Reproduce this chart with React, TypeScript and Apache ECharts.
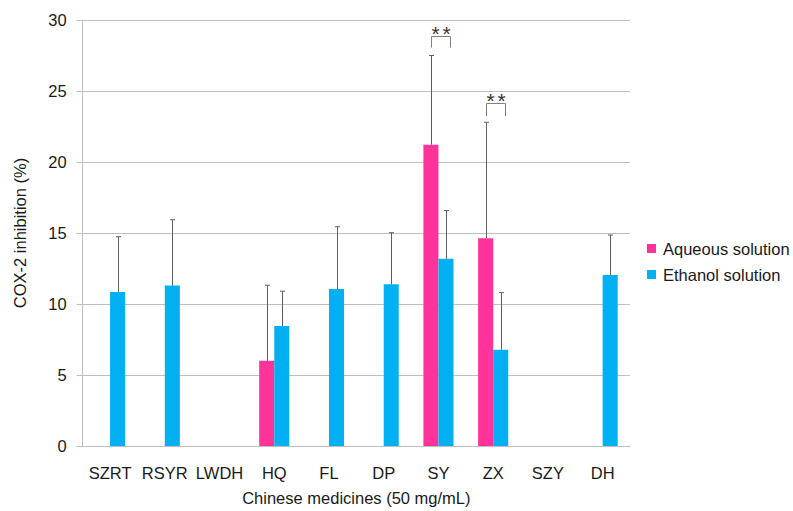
import React, { useEffect, useRef } from "react";
import * as echarts from "echarts";

const categories = ["SZRT", "RSYR", "LWDH", "HQ", "FL", "DP", "SY", "ZX", "SZY", "DH"];
const aqueousValues: (number | null)[] = [null, null, null, 6.0, null, null, 21.22, 14.63, null, null];
const aqueousErrTop: (number | null)[] = [null, null, null, 11.32, null, null, 27.5, 22.8, null, null];
const ethanolValues: (number | null)[] = [10.85, 11.3, null, 8.45, 11.06, 11.39, 13.18, 6.78, null, 12.04];
const ethanolErrTop: (number | null)[] = [14.74, 15.93, null, 10.9, 15.44, 15.02, 16.58, 10.8, null, 14.86];
// significance brackets: [category index, bracket top, bracket bottom]
const sigCategories = [6, 7];
const sigTop = [28.9, 24.13];
const sigBottom = [28.06, 23.24];
const sigMark = "*";
const yTicks = { min: 0, max: 30, interval: 5 };

const FONT = "'Liberation Sans', Arial, sans-serif";
const TEXT = "#1a1a1a";
const PINK = "#FF3399";
const BLUE = "#00B0F0";
const CAT_GAP = 0.45;

function errData(vals: (number | null)[], tops: (number | null)[]) {
  const out: any[] = [];
  vals.forEach((v, i) => {
    if (v != null && tops[i] != null) out.push([i, v, tops[i]]);
  });
  return out;
}

function makeErrSeries(name: string, vals: (number | null)[], tops: (number | null)[], side: number) {
  return {
    type: "custom",
    name: name + "-err",
    z: 5,
    silent: true,
    data: errData(vals, tops),
    renderItem: (params: any, api: any) => {
      const band = api.size([1, 0])[0];
      const bw = (band * (1 - CAT_GAP)) / 2;
      const base = api.coord([api.value(0), api.value(1)]);
      const top = api.coord([api.value(0), api.value(2)]);
      const x = Math.round(base[0] + side * bw / 2) + 0.5;
      return {
        type: "group",
        children: [
          { type: "line", shape: { x1: x, y1: base[1], x2: x, y2: top[1] }, style: { stroke: "#5f5f5f", lineWidth: 1 } },
          { type: "line", shape: { x1: x - 2.5, y1: top[1], x2: x + 2.5, y2: top[1] }, style: { stroke: "#5f5f5f", lineWidth: 1 } },
        ],
      };
    },
  };
}

export default function App() {
  const ref = useRef<HTMLDivElement>(null);
  useEffect(() => {
    if (!ref.current) return;
    const chart = echarts.init(ref.current, undefined, { renderer: "svg" });
    const sigData = sigCategories.map((c, i) => [c, sigTop[i], sigBottom[i]]);
    chart.setOption({
      animation: false,
      backgroundColor: "#ffffff",
      grid: { left: 82.7, right: 163, top: 20, bottom: 61.7, containLabel: false },
      legend: {
        orient: "vertical",
        left: 647,
        top: 240,
        padding: 0,
        itemWidth: 9,
        itemHeight: 9,
        itemGap: 9,
        icon: "rect",
        data: ["Aqueous solution", "Ethanol solution"],
        textStyle: { fontFamily: FONT, fontSize: 16.5, color: TEXT, padding: [0, 0, 0, 2] },
      },
      xAxis: {
        type: "category",
        data: categories,
        axisTick: { show: false },
        axisLine: { lineStyle: { color: "#BFBFBF", width: 1 } },
        axisLabel: { fontFamily: FONT, fontSize: 16.5, color: TEXT, margin: 18, interval: 0 },
        name: "Chinese medicines (50 mg/mL)",
        nameLocation: "middle",
        nameGap: 43,
        nameTextStyle: { fontFamily: FONT, fontSize: 16.5, color: TEXT },
      },
      yAxis: {
        type: "value",
        min: yTicks.min,
        max: yTicks.max,
        interval: yTicks.interval,
        axisLine: { show: true, lineStyle: { color: "#BFBFBF", width: 1 } },
        axisTick: { show: true, length: 6, lineStyle: { color: "#BFBFBF" } },
        splitLine: { lineStyle: { color: "#BFBFBF", width: 1 } },
        axisLabel: { fontFamily: FONT, fontSize: 16.5, color: TEXT, margin: 16 },
        name: "COX-2 inhibition (%)",
        nameLocation: "middle",
        nameGap: 54,
        nameRotate: 90,
        nameTextStyle: { fontFamily: FONT, fontSize: 16.5, color: TEXT },
      },
      series: [
        {
          type: "bar",
          name: "Aqueous solution",
          data: aqueousValues,
          barGap: "0%",
          barCategoryGap: CAT_GAP * 100 + "%",
          itemStyle: { color: PINK },
        },
        {
          type: "bar",
          name: "Ethanol solution",
          data: ethanolValues,
          barGap: "0%",
          barCategoryGap: CAT_GAP * 100 + "%",
          itemStyle: { color: BLUE },
        },
        makeErrSeries("Aqueous solution", aqueousValues, aqueousErrTop, -1),
        makeErrSeries("Ethanol solution", ethanolValues, ethanolErrTop, 1),
        {
          type: "custom",
          name: "sig",
          z: 6,
          silent: true,
          data: sigData,
          renderItem: (params: any, api: any) => {
            const band = api.size([1, 0])[0];
            const bw = (band * (1 - CAT_GAP)) / 2;
            const t = api.coord([api.value(0), api.value(1)]);
            const b = api.coord([api.value(0), api.value(2)]);
            const x1 = Math.round(t[0] - bw / 2) + 0.5;
            const x2 = Math.round(t[0] + bw * 0.8) + 0.5;
            const yt = Math.round(t[1]) + 0.5;
            const cx = (x1 + x2) / 2;
            const starStyle = (dx: number) => ({
              type: "text",
              x: cx + dx,
              y: yt - 3,
              style: {
                text: sigMark,
                fontFamily: FONT,
                fontSize: 21,
                fill: "#333333",
                align: "center",
                verticalAlign: "middle",
              },
            });
            return {
              type: "group",
              children: [
                {
                  type: "polyline",
                  shape: { points: [[x1, b[1]], [x1, yt], [x2, yt], [x2, b[1]]] },
                  style: { stroke: "#808080", lineWidth: 1, fill: "none" },
                },
                starStyle(-5.5),
                starStyle(5.5),
              ],
            };
          },
        },
      ],
    });
    return () => chart.dispose();
  }, []);
  return <div ref={ref} style={{ width: 793, height: 511, position: "absolute", left: 0, top: 0 }} />;
}
